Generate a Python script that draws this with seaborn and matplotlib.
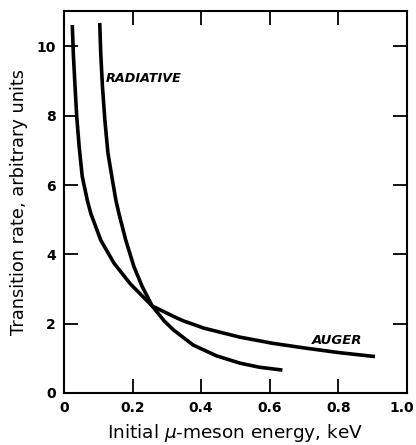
import matplotlib.transforms as mtransforms
import pandas as pd
import seaborn as sns
from matplotlib import pyplot as plt

# values
auger_energy = [0.024, 0.027, 0.032, 0.037, 0.044, 0.053, 0.068, 0.078, 0.107, 0.146,
                0.194, 0.257, 0.280, 0.321, 0.348, 0.408, 0.513, 0.610, 0.707, 0.805, 0.907]
auger_rate = [10.62, 9.80, 8.84, 7.97, 7.11, 6.25, 5.55, 5.18, 4.41, 3.74,
              3.14, 2.51, 2.40, 2.20, 2.08, 1.87, 1.61, 1.43, 1.29, 1.16, 1.05]

radiative_energy = [0.104, 0.107, 0.112, 0.119, 0.128, 0.141, 0.151, 0.160, 0.180, 0.204,
                    0.228, 0.257, 0.292, 0.319, 0.377, 0.445, 0.513, 0.571, 0.637]
radiative_rate = [10.68, 9.80, 8.84, 7.88, 6.92, 6.15, 5.57, 5.18, 4.41, 3.64,
                  3.07, 2.51, 2.08, 1.82, 1.38, 1.07, 0.86, 0.74, 0.66]

x_ticks = [0, 0.2, 0.4, 0.6, 0.8, 1.0]
x_labels = ['0', '0.2', '0.4', '0.6', '0.8', '1.0']
y_ticks = [0, 2, 4, 6, 8, 10]

df = pd.concat([
    pd.DataFrame({'energy': auger_energy, 'rate': auger_rate, 'curve': 'AUGER'}),
    pd.DataFrame({'energy': radiative_energy, 'rate': radiative_rate, 'curve': 'RADIATIVE'}),
])

sns.set_style('ticks')
plt.rcParams['font.family'] = ['DejaVu Sans']
plt.rcParams['text.color'] = 'black'
plt.rcParams['axes.labelcolor'] = 'black'
plt.rcParams['xtick.color'] = 'black'
plt.rcParams['ytick.color'] = 'black'
plt.rcParams['axes.edgecolor'] = 'black'

fig = plt.figure(figsize=(4.16, 4.45), dpi=100)
ax = fig.add_axes([0.154, 0.117, 0.824, 0.858])

sns.lineplot(data=df, x='energy', y='rate', units='curve', estimator=None,
             sort=False, color='black', linewidth=2.6, ax=ax,
             solid_joinstyle='round', solid_capstyle='butt')

ax.text(0.123, 9.08, 'RADIATIVE', fontsize=9.2, fontstyle='italic',
        fontweight='semibold', va='center', ha='left')
ax.text(0.723, 1.5, 'AUGER', fontsize=9.5, fontstyle='italic',
        fontweight='semibold', va='center', ha='left')

ax.set_xlim(0, 1.0)
ax.set_ylim(0, 11.02)
ax.set_xticks(x_ticks)
ax.set_xticklabels(x_labels, fontweight='bold', fontsize=10)
ax.set_yticks(y_ticks)
ax.set_yticklabels([str(v) for v in y_ticks], fontweight='bold', fontsize=10)
ax.tick_params(direction='in', length=10, width=1.3, top=True, right=True,
               labeltop=False, labelright=False, pad=6)
for side in ax.spines.values():
    side.set_linewidth(1.5)

# keep the last x label inside the figure edge
last = ax.get_xticklabels()[-1]
last.set_transform(last.get_transform() +
                   mtransforms.ScaledTranslation(-4 / 72, 0, fig.dpi_scale_trans))

ax.set_xlabel(r'Initial $\mu$-meson energy, keV', fontsize=13.3, labelpad=5)
ax.set_ylabel('Transition rate, arbitrary units', fontsize=12.8, labelpad=6)

fig.savefig('out.png', dpi=100)
plt.close(fig)
